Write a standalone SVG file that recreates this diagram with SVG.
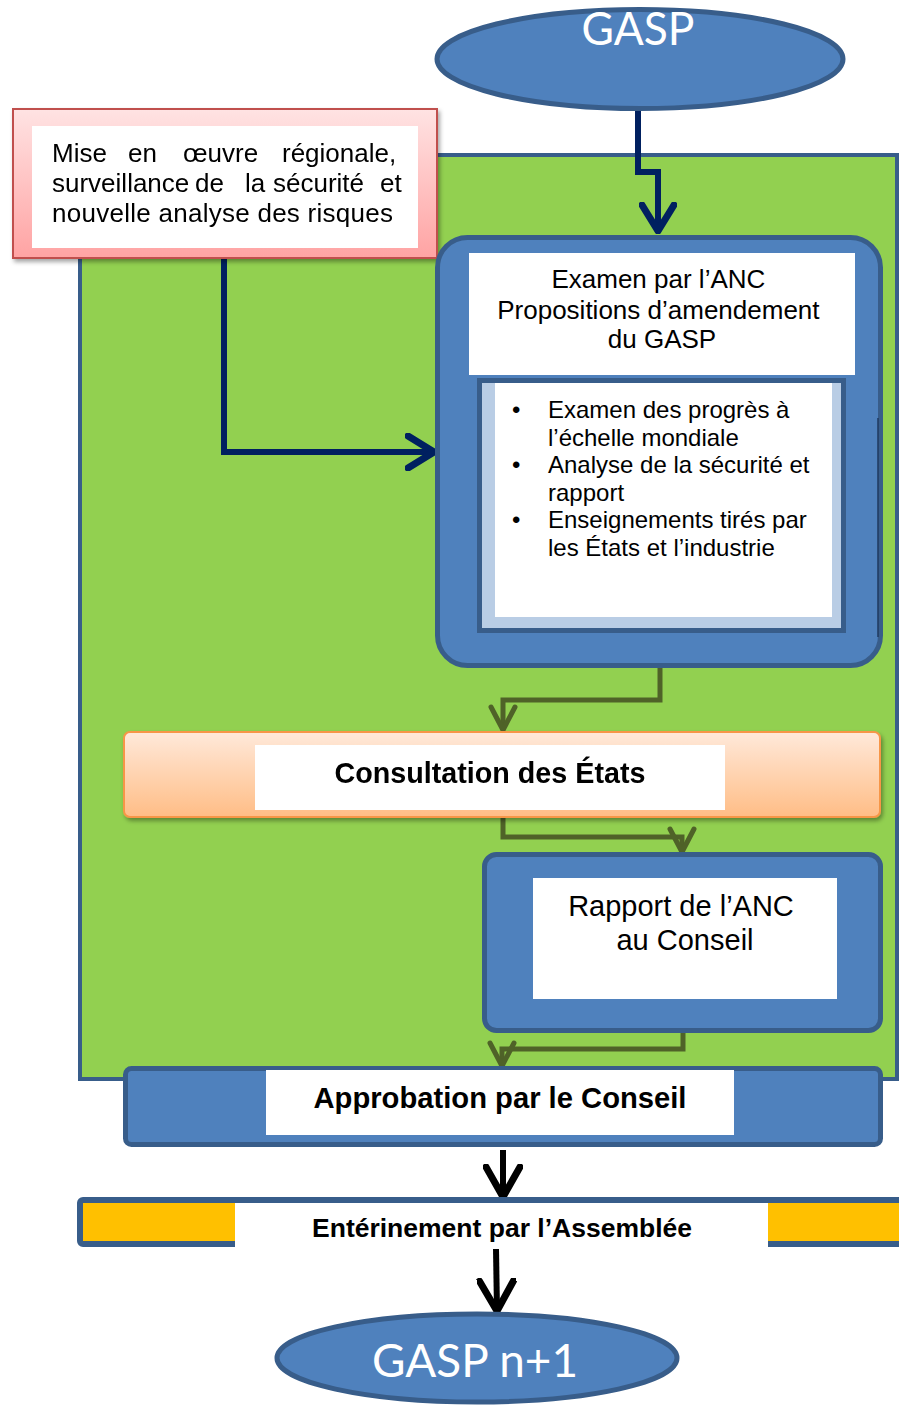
<svg xmlns="http://www.w3.org/2000/svg" width="899" height="1405" viewBox="0 0 899 1405">
  <style>
    .blue { fill: #4F81BD; stroke: #385D8A; stroke-width: 5; }
    .white { fill: #FFFFFF; }
    .txt { font-family: "Liberation Sans", Arial, sans-serif; fill: #000000; }
    .bold { font-weight: bold; }
    .oval { font-family: Lato, "Open Sans", sans-serif; fill: #FFFFFF; font-size: 46px; }
    .navy { fill: none; stroke: #002060; stroke-width: 6; }
    .olive { fill: none; stroke: #4F6228; stroke-width: 5; }
    .black { fill: none; stroke: #000000; stroke-width: 6; }
  </style>
  <defs>
    <linearGradient id="pinkGrad" x1="0" y1="0" x2="0" y2="1">
      <stop offset="0" stop-color="#FFE3E3"/>
      <stop offset="1" stop-color="#FFA3A3"/>
    </linearGradient>
    <linearGradient id="peachGrad" x1="0" y1="0" x2="0" y2="1">
      <stop offset="0" stop-color="#FFE9DA"/>
      <stop offset="1" stop-color="#FFBD86"/>
    </linearGradient>
    <filter id="shadow" x="-10%" y="-20%" width="120%" height="150%">
      <feDropShadow dx="2" dy="3" stdDeviation="2" flood-color="#000000" flood-opacity="0.35"/>
    </filter>
    <marker id="arrowNavy" viewBox="0 0 32 38" refX="29" refY="19" markerWidth="32" markerHeight="38" markerUnits="userSpaceOnUse" orient="auto">
      <path d="M3,3 L29,19 L3,35" fill="none" stroke="#002060" stroke-width="7" stroke-linecap="round" stroke-linejoin="round"/>
    </marker>
    <marker id="arrowOlive" viewBox="0 0 28 30" refX="26" refY="15" markerWidth="28" markerHeight="30" markerUnits="userSpaceOnUse" orient="auto">
      <path d="M3,3 L26,15 L3,27" fill="none" stroke="#4F6228" stroke-width="5" stroke-linecap="round" stroke-linejoin="round"/>
    </marker>
    <marker id="arrowBlack" viewBox="0 0 36 40" refX="33" refY="20" markerWidth="36" markerHeight="40" markerUnits="userSpaceOnUse" orient="auto">
      <path d="M3,3 L33,20 L3,37" fill="none" stroke="#000000" stroke-width="7" stroke-linecap="round" stroke-linejoin="round"/>
    </marker>
  </defs>

  <rect width="899" height="1405" fill="#FFFFFF"/>

  <!-- green review cycle area -->
  <g id="cycle">
    <rect x="80" y="155" width="817" height="924" fill="#92D050" stroke="#385D8A" stroke-width="4"/>
  </g>

  <!-- connectors -->
  <g id="connectors">
    <path class="navy" d="M638 111 V172 H658 V231" marker-end="url(#arrowNavy)"/>
    <path class="navy" d="M224 258 V452 H434" marker-end="url(#arrowNavy)"/>
    <path class="olive" d="M660 668 V700 H503 V730" marker-end="url(#arrowOlive)"/>
    <path class="olive" d="M503 818 V837 H682 V852" marker-end="url(#arrowOlive)"/>
    <path class="olive" d="M683 1033 V1049 H502 V1066" marker-end="url(#arrowOlive)"/>
    <path class="black" d="M503 1150 V1197" marker-end="url(#arrowBlack)"/>
    <path class="black" d="M496 1249 L497 1311" marker-end="url(#arrowBlack)"/>
  </g>

  <!-- start: current plan -->
  <g id="gasp">
    <ellipse class="blue" cx="640" cy="59" rx="203" ry="49.5"/>
    <text class="oval" x="638" y="45" text-anchor="middle" textLength="113" lengthAdjust="spacingAndGlyphs">GASP</text>
  </g>

  <!-- regional implementation -->
  <g id="regional" filter="url(#shadow)">
    <rect x="13" y="109" width="424" height="149" fill="url(#pinkGrad)" stroke="#C0504D" stroke-width="2"/>
    <rect class="white" x="32" y="126" width="386" height="122"/>
    <text class="txt" font-size="26">
      <tspan x="52" y="162">Mise</tspan><tspan x="128" y="162">en</tspan><tspan x="183" y="162">œuvre</tspan><tspan x="282" y="162">régionale,</tspan>
      <tspan x="52" y="192">surveillance</tspan><tspan x="195" y="192">de</tspan><tspan x="245" y="192">la</tspan><tspan x="273" y="192">sécurité</tspan><tspan x="380" y="192">et</tspan>
      <tspan x="52" y="222" textLength="341" lengthAdjust="spacing">nouvelle analyse des risques</tspan>
    </text>
  </g>

  <!-- ANC review -->
  <g id="anc-review">
    <rect class="blue" x="437.5" y="237.5" width="443" height="428" rx="30"/>
    <line x1="878" y1="418" x2="878" y2="637" stroke="#1F3A5F" stroke-width="1.5"/>
    <rect class="white" x="469" y="253" width="386" height="122"/>
    <text class="txt" font-size="26" text-anchor="middle">
      <tspan x="662" y="288">Examen par l’ANC</tspan>
      <tspan x="662" y="318.5">Propositions d’amendement</tspan>
      <tspan x="662" y="348">du GASP</tspan>
    </text>
    <rect x="479.5" y="380.5" width="364" height="250" fill="#B9CDE5" stroke="#385D8A" stroke-width="5"/>
    <rect class="white" x="495" y="383" width="337" height="234"/>
    <text class="txt" font-size="24">
      <tspan x="512" y="418">•</tspan><tspan x="548" y="418">Examen des progrès à</tspan>
      <tspan x="548" y="445.5">l’échelle mondiale</tspan>
      <tspan x="512" y="473">•</tspan><tspan x="548" y="473">Analyse de la sécurité et</tspan>
      <tspan x="548" y="500.5">rapport</tspan>
      <tspan x="512" y="528">•</tspan><tspan x="548" y="528">Enseignements tirés par</tspan>
      <tspan x="548" y="555.5">les États et l’industrie</tspan>
    </text>
  </g>

  <!-- consultation -->
  <g id="consultation" filter="url(#shadow)">
    <rect x="124" y="732" width="756" height="85" rx="6" fill="url(#peachGrad)" stroke="#F79646" stroke-width="2"/>
    <rect class="white" x="255" y="745" width="470" height="65"/>
    <text class="txt bold" font-size="28.7" x="490" y="783" text-anchor="middle">Consultation des États</text>
  </g>

  <!-- report to Council -->
  <g id="report">
    <rect class="blue" x="484.5" y="854.5" width="396" height="176" rx="12"/>
    <rect class="white" x="533" y="878" width="304" height="121"/>
    <text class="txt" font-size="29" text-anchor="middle">
      <tspan x="685" y="916">Rapport de l’ANC</tspan>
      <tspan x="685" y="950">au Conseil</tspan>
    </text>
  </g>

  <!-- Council approval -->
  <g id="approval">
    <rect class="blue" x="125.5" y="1068.5" width="755" height="76" rx="6"/>
    <rect class="white" x="266" y="1070" width="468" height="65"/>
    <text class="txt bold" font-size="29.2" x="500" y="1108" text-anchor="middle">Approbation par le Conseil</text>
  </g>

  <!-- Assembly endorsement -->
  <g id="endorsement">
    <rect x="80" y="1200" width="830" height="44" rx="3" fill="#FFC000" stroke="#385D8A" stroke-width="6"/>
    <rect class="white" x="235" y="1203" width="533" height="44"/>
    <text class="txt bold" font-size="26.5" x="502" y="1237" text-anchor="middle">Entérinement par l’Assemblée</text>
  </g>

  <!-- next plan edition -->
  <g id="gasp-next">
    <ellipse class="blue" cx="477" cy="1358" rx="200" ry="44"/>
    <text class="oval" x="475" y="1377" text-anchor="middle" textLength="206" lengthAdjust="spacingAndGlyphs">GASP n+1</text>
  </g>
</svg>
